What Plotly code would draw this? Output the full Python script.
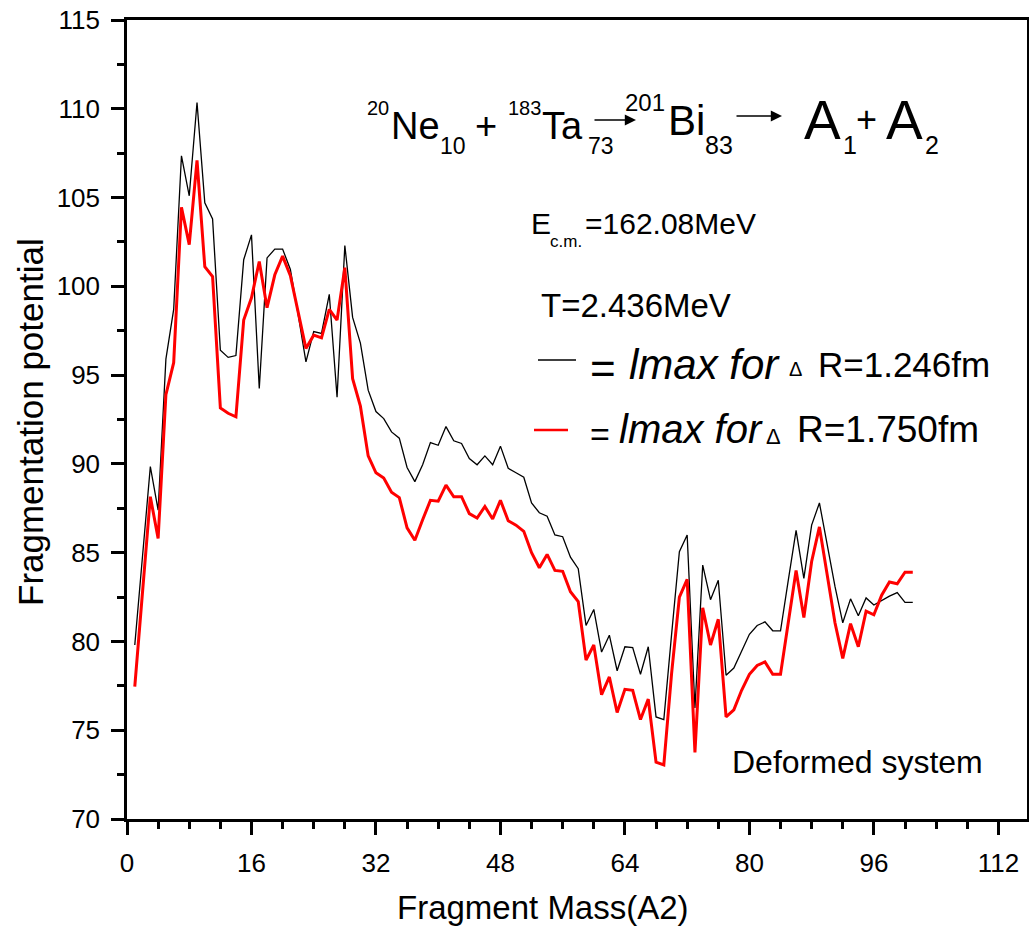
import plotly.graph_objects as go

# ---------------- data ----------------
fragment_mass = list(range(1, 102))

v_dr_1246 = [79.8, 84.7, 89.85, 87.4, 95.9, 98.7, 107.35, 105.1, 110.35, 104.7,
             103.8, 96.4, 96.0, 96.1, 101.5, 102.9, 94.25, 101.6, 102.1, 102.1,
             100.95, 98.4, 95.75, 97.45, 97.35, 99.55, 93.75, 102.3, 98.25, 96.8,
             94.15, 92.95, 92.55, 91.8, 91.45, 89.8, 89.0, 89.95, 91.2, 91.05,
             92.1, 91.3, 91.15, 90.3, 89.95, 90.45, 89.95, 91.0, 89.75, 89.5,
             89.25, 87.8, 87.25, 87.05, 86.0, 85.9, 84.75, 84.1, 80.9, 81.8,
             79.4, 80.35, 78.35, 79.7, 79.65, 78.15, 79.7, 75.75, 75.6, 80.4,
             85.05, 86.0, 76.25, 84.3, 82.35, 83.45, 78.1, 78.5, 79.45, 80.4,
             80.9, 81.1, 80.6, 80.6, 83.45, 86.25, 83.55, 86.55, 87.8, 85.45,
             83.1, 81.05, 82.4, 81.45, 82.45, 82.05, 82.3, 82.55, 82.75, 82.2,
             82.2]

v_dr_1750 = [77.45, 82.6, 88.15, 85.8, 93.9, 95.7, 104.45, 102.35, 107.1, 101.1,
             100.55, 93.15, 92.85, 92.65, 98.1, 99.35, 101.4, 98.8, 100.65, 101.7,
             100.6, 98.55, 96.5, 97.25, 97.1, 98.7, 98.1, 101.05, 94.8, 93.25,
             90.45, 89.5, 89.2, 88.4, 88.1, 86.4, 85.7, 86.85, 87.95, 87.9,
             88.8, 88.15, 88.15, 87.2, 86.95, 87.6, 86.9, 87.95, 86.8, 86.55,
             86.2, 85.0, 84.15, 84.9, 84.0, 83.95, 82.8, 82.25, 78.95, 79.8,
             77.0, 78.0, 76.0, 77.3, 77.25, 75.6, 76.75, 73.2, 73.05, 78.2,
             82.5, 83.5, 73.75, 81.9, 79.8, 81.25, 75.75, 76.15, 77.25, 78.15,
             78.65, 78.85, 78.15, 78.15, 81.0, 84.0, 81.35, 84.5, 86.45, 83.65,
             81.05, 79.05, 81.0, 79.7, 81.7, 81.5, 82.6, 83.35, 83.25, 83.9,
             83.9]

x_tick_vals = [0, 16, 32, 48, 64, 80, 96, 112]
y_tick_vals = [70, 75, 80, 85, 90, 95, 100, 105, 110, 115]

# ---------------- layout helpers ----------------
W, H = 1029, 930
ML, MT = 127, 20
PW, PH = 900, 799
MR = W - ML - PW
MB = H - MT - PH
FONT = "Liberation Sans, Arial, sans-serif"

# reference-pixel -> paper coordinates (plot area: x 127..1027, y 20..819)
def px(xp):
    return (xp - 127) / PW


def py(yp):
    return (819 - yp) / PH


fig = go.Figure()
fig.add_trace(go.Scatter(x=fragment_mass, y=v_dr_1246, mode="lines",
                         line=dict(color="black", width=1.3),
                         name="lmax for ΔR=1.246fm", showlegend=False))
fig.add_trace(go.Scatter(x=fragment_mass, y=v_dr_1750, mode="lines",
                         line=dict(color="#ff0000", width=3),
                         name="lmax for ΔR=1.750fm", showlegend=False))

annotations = []


def txt(s, xl, yc, size, italic=False, anchor="left"):
    if italic:
        s = "<i>" + s + "</i>"
    annotations.append(dict(text=s, x=px(xl), y=py(yc), xref="paper", yref="paper",
                            xanchor=anchor, yanchor="middle", showarrow=False,
                            borderpad=0,
                            font=dict(family=FONT, size=size, color="black")))


# reaction equation
txt("20", 366, 108.5, 20)
txt("Ne", 390, 126, 38)
txt("10", 439, 146, 23)
txt("+", 474, 126.5, 38)
txt("183", 507, 108.5, 20)
txt("Ta", 541, 126, 38)
txt("73", 587, 146, 23)
txt("201", 624, 102.5, 24)
txt("Bi", 667, 120.5, 42)
txt("83", 704, 145, 25)
txt("A", 803, 120, 55)
txt("1", 842, 145, 25)
txt("+", 855, 120, 36)
txt("A", 885, 120, 55)
txt("2", 924, 145, 25)

for (x0, x1, yy) in [(593, 636, 120), (735, 782, 116)]:
    annotations.append(dict(text="", x=px(x1), y=py(yy), xref="paper", yref="paper",
                            ax=x0 - x1, ay=0, showarrow=True, arrowhead=2,
                            arrowsize=1.4, arrowwidth=1.6, arrowcolor="black",
                            standoff=0, startstandoff=0))

# energy / temperature
txt("E", 530, 223.5, 30)
txt("c.m.", 549, 241.5, 17)
txt("=162.08MeV", 584, 223.5, 30)
txt("T=2.436MeV", 540, 305.5, 33)

# legend text
txt("=", 589, 368, 44)
txt("lmax for", 628, 365, 42, italic=True)
txt("Δ", 788, 368.5, 20)
txt("R=1.246fm", 817, 364, 35)

txt("=", 589, 433.5, 34)
txt("lmax for", 618, 429, 40, italic=True)
txt("Δ", 765, 436.5, 22)
txt("R=1.750fm", 796, 429, 37)

txt("Deformed system", 731, 762, 32)

# axis titles
annotations.append(dict(text="Fragmentation potential", x=px(30), y=py(422),
                        xref="paper", yref="paper", xanchor="center", yanchor="middle",
                        textangle=-90, showarrow=False, borderpad=0,
                        font=dict(family=FONT, size=35, color="black")))
annotations.append(dict(text="Fragment Mass(A2)", x=px(543), y=py(907),
                        xref="paper", yref="paper", xanchor="center", yanchor="middle",
                        showarrow=False, borderpad=0,
                        font=dict(family=FONT, size=33, color="black")))

shapes = [
    dict(type="line", xref="paper", yref="paper", x0=px(538), x1=px(576),
         y0=py(360), y1=py(360), line=dict(color="black", width=1.3)),
    dict(type="line", xref="paper", yref="paper", x0=px(534), x1=px(568),
         y0=py(430), y1=py(430), line=dict(color="#ff0000", width=2.5)),
]

fig.update_layout(
    width=W, height=H,
    margin=dict(l=ML, r=MR, t=MT, b=MB, autoexpand=False),
    paper_bgcolor="white", plot_bgcolor="white",
    font=dict(family=FONT, size=26, color="black"),
    annotations=annotations, shapes=shapes, showlegend=False,
)

fig.update_xaxes(range=[0, PW / 7.78], tickmode="array", tickvals=x_tick_vals,
                 ticks="outside", ticklen=13, tickwidth=3, tickcolor="black",
                 showline=True, linewidth=2.5, linecolor="black", mirror=True,
                 showgrid=False, zeroline=False, ticklabelstandoff=6,
                 ticklabeloverflow="allow",
                 tickfont=dict(family=FONT, size=26, color="black"),
                 minor=dict(dtick=4, ticks="outside", ticklen=7, tickwidth=2.5,
                            tickcolor="black", showgrid=False))
fig.update_yaxes(range=[70, 115], tickmode="array", tickvals=y_tick_vals,
                 ticks="outside", ticklen=13, tickwidth=3, tickcolor="black",
                 showline=True, linewidth=2.5, linecolor="black", mirror=True,
                 showgrid=False, zeroline=False, ticklabelstandoff=6,
                 ticklabeloverflow="allow",
                 tickfont=dict(family=FONT, size=26, color="black"),
                 minor=dict(dtick=2.5, ticks="outside", ticklen=7, tickwidth=2.5,
                            tickcolor="black", showgrid=False))

fig.write_html("out.html",
               config={"displayModeBar": False},
               post_script="document.body.style.margin='0px';"
                           "document.body.style.overflow='hidden';")
